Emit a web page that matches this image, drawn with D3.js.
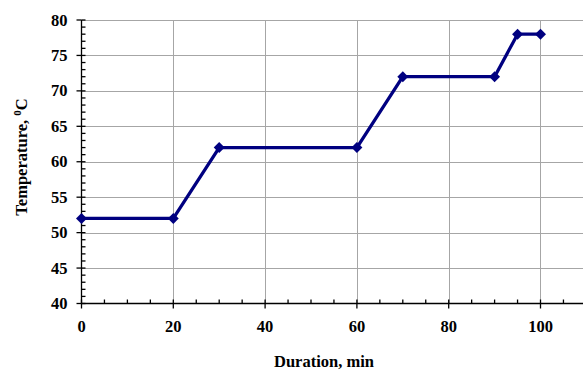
<!DOCTYPE html>
<html>
<head>
<meta charset="utf-8">
<script src="https://cdn.jsdelivr.net/npm/d3@7"></script>
<style>
  html, body { margin: 0; padding: 0; background: #fff; overflow: hidden; }
  text { font-family: "Liberation Serif", "Times New Roman", serif; font-weight: bold; }
</style>
</head>
<body>
<div id="container"></div>
<script>
const duration = [0, 20, 30, 60, 70, 90, 95, 100];
const temperature = [52, 52, 62, 62, 72, 72, 78, 78];
const xTicks = [0, 20, 40, 60, 80, 100];
const yTicks = [40, 45, 50, 55, 60, 65, 70, 75, 80];

const W = 583, H = 372;
const svg = d3.select('#container').append('svg')
    .attr('width', W).attr('height', H);

const x = d3.scaleLinear().domain([0, 110]).range([81.5, 586.4]);
const y = d3.scaleLinear().domain([40, 80]).range([303.5, 20]);

// grid
const grid = svg.append('g').attr('stroke', '#a6a6a6').attr('stroke-width', 1);
grid.selectAll('.gx').data(xTicks.slice(1)).enter().append('line')
    .attr('x1', d => Math.round(x(d)) + 0.5).attr('x2', d => Math.round(x(d)) + 0.5)
    .attr('y1', y(80)).attr('y2', y(40));
grid.selectAll('.gy').data(yTicks.slice(1)).enter().append('line')
    .attr('x1', x(0)).attr('x2', W)
    .attr('y1', d => Math.round(y(d)) + 0.5).attr('y2', d => Math.round(y(d)) + 0.5);

// axes
const ax = svg.append('g').attr('stroke', '#000').attr('stroke-width', 1.3);
ax.append('line').attr('x1', x(0)).attr('x2', x(0)).attr('y1', y(80)).attr('y2', y(40));
ax.append('line').attr('x1', x(0)).attr('x2', W).attr('y1', y(40)).attr('y2', y(40));
// y minor ticks (inside) and major ticks (outside)
ax.selectAll('.ymin').data(d3.range(40, 81, 1)).enter().append('line')
    .attr('x1', x(0)).attr('x2', x(0) + 4)
    .attr('y1', d => y(d)).attr('y2', d => y(d));
ax.selectAll('.ymaj').data(yTicks).enter().append('line')
    .attr('x1', x(0) - 5).attr('x2', x(0))
    .attr('y1', d => y(d)).attr('y2', d => y(d));
// x minor ticks (inside) and major ticks (outside)
ax.selectAll('.xmin').data(d3.range(0, 111, 5)).enter().append('line')
    .attr('x1', d => x(d)).attr('x2', d => x(d))
    .attr('y1', y(40)).attr('y2', y(40) - 4);
ax.selectAll('.xmaj').data(xTicks).enter().append('line')
    .attr('x1', d => x(d)).attr('x2', d => x(d))
    .attr('y1', y(40)).attr('y2', y(40) + 5);

// tick labels
svg.selectAll('.ylab').data(yTicks).enter().append('text')
    .attr('x', x(0) - 14).attr('y', d => y(d) + 5.5)
    .attr('text-anchor', 'end').attr('font-size', 16.5)
    .text(d => d);
svg.selectAll('.xlab').data(xTicks).enter().append('text')
    .attr('x', d => x(d)).attr('y', y(40) + 28)
    .attr('text-anchor', 'middle').attr('font-size', 16.5)
    .text(d => d);

// titles
svg.append('text')
    .attr('x', 324).attr('y', 367)
    .attr('text-anchor', 'middle').attr('font-size', 16.5)
    .text('Duration, min');
const yt = svg.append('text')
    .attr('transform', 'translate(27,157) rotate(-90)')
    .attr('text-anchor', 'middle').attr('font-size', 16.5);
yt.append('tspan').text('Temperature, ');
yt.append('tspan').attr('font-size', 11).attr('dy', -6).text('0');
yt.append('tspan').attr('dy', 6).text('C');

// series
const pts = duration.map((d, i) => [d, temperature[i]]);
svg.append('path').datum(pts)
    .attr('fill', 'none').attr('stroke', '#000080').attr('stroke-width', 3.3)
    .attr('stroke-linejoin', 'round')
    .attr('d', d3.line().x(d => x(d[0])).y(d => y(d[1])));
svg.selectAll('.mk').data(pts).enter().append('path')
    .attr('transform', d => `translate(${x(d[0])},${y(d[1])}) rotate(45)`)
    .attr('d', d3.symbol(d3.symbolSquare, 60))
    .attr('fill', '#000080');
</script>
</body>
</html>
